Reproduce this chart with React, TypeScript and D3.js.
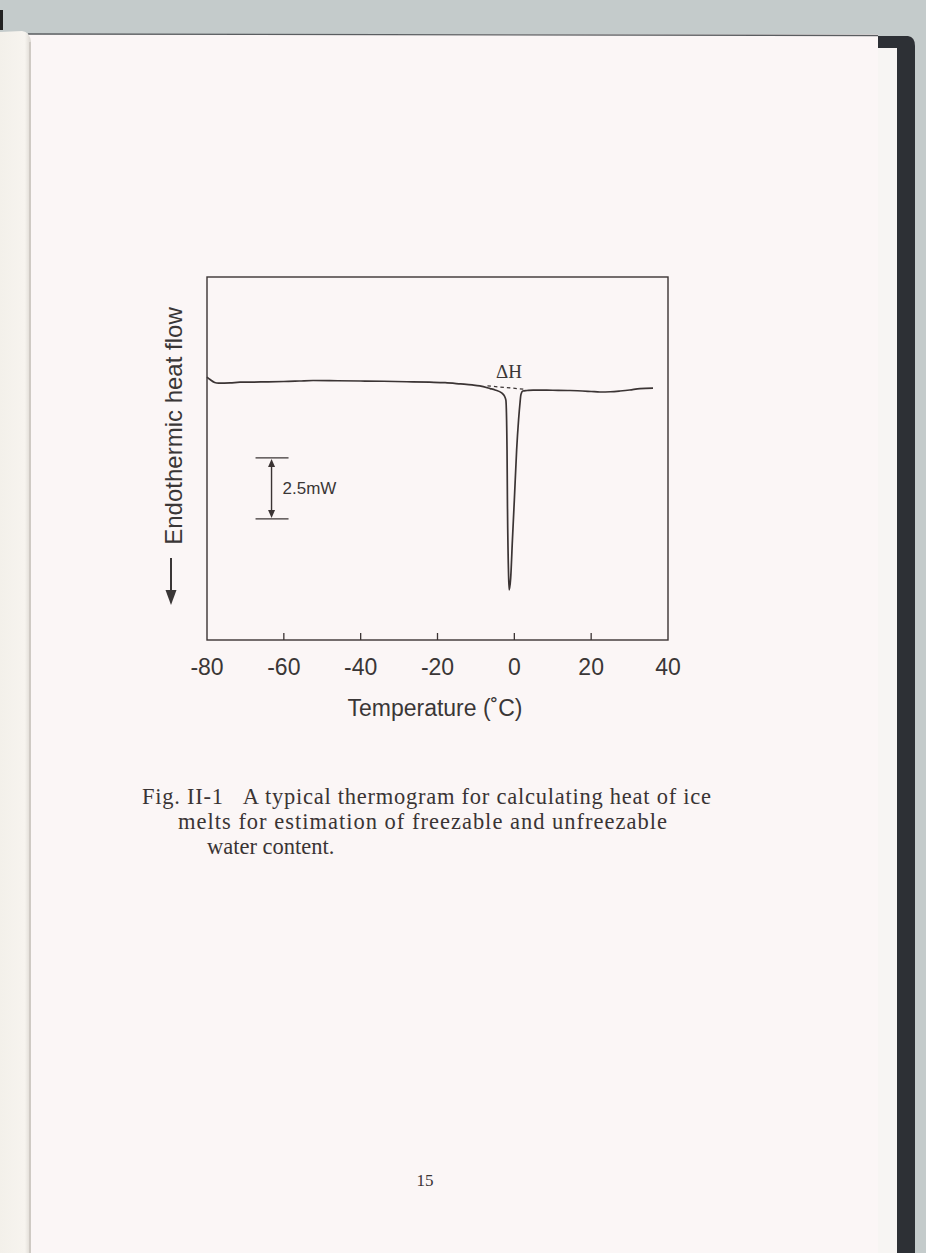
import React from 'react';
import * as d3 from 'd3';

// DSC thermogram trace (temperature in °C, heat flow in mW relative to baseline)
const temperature = [
  -80, -79.2, -78.0, -77.0, -74, -71.4, -66, -60, -56, -52.4, -46, -40, -34, -28, -22, -18,
  -14, -11, -9, -6.3, -5.0, -3.3, -2.6, -2.2, -1.9, -1.8, -1.5, -1.35, -0.95, -0.5, 0.0, 0.6,
  1.1, 1.5, 1.7, 2.2, 3.3, 4.9, 10, 14.5, 20, 22.3, 25, 27.5, 30, 32.7, 36.1,
];
const heatFlow = [
  0.2, 0.1, -0.02, -0.05, -0.04, -0.01, 0.0, 0.02, 0.04, 0.06, 0.05, 0.04, 0.03, 0.01, -0.01, -0.03,
  -0.08, -0.12, -0.16, -0.27, -0.33, -0.45, -0.57, -0.74, -2.79, -4.84, -7.91, -8.52, -8.03, -6.48, -4.84, -2.79,
  -1.56, -0.82, -0.53, -0.37, -0.35, -0.33, -0.34, -0.35, -0.39, -0.41, -0.4, -0.37, -0.33, -0.27, -0.25,
];
// dashed baseline under the melting peak (ΔH)
const dashT = [-7.0, 2.8];
const dashV = [-0.16, -0.3];

const xTicks = [-80, -60, -40, -20, 0, 20, 40];
const xDomain = [-80, 40];
const yDomain = [-10.57, 4.3];
const scaleBarMW = [-3.11, -5.61]; // 2.5 mW bar

const xTitle = 'Temperature (˚C)';
const yTitle = 'Endothermic heat flow';
const scaleLabel = '2.5mW';
const peakLabel = 'ΔH';
const captionLines = [
  'Fig. II-1\u00a0\u00a0\u00a0A typical thermogram for calculating heat of ice',
  'melts for estimation of freezable and unfreezable',
  'water content.',
];
const pageNumber = '15';

export default function App() {
  const W = 926;
  const H = 1253;
  const left = 207, right = 668, top = 277, bottom = 640;
  const x = d3.scaleLinear().domain(xDomain).range([left, right]);
  const y = d3.scaleLinear().domain(yDomain).range([bottom, top]);
  const line = d3
    .line<number>()
    .x((_, i) => x(temperature[i]))
    .y((d) => y(d))
    .curve(d3.curveMonotoneX);
  const path = line(heatFlow) || '';

  const ink = '#3b3434';
  const sans = '"Liberation Sans", Arial, sans-serif';
  const serif = '"Liberation Serif", "Times New Roman", serif';

  const sbX = x(-63.2);
  const sbY1 = y(scaleBarMW[0]);
  const sbY2 = y(scaleBarMW[1]);

  return (
    <svg
      width={W}
      height={H}
      viewBox={`0 0 ${W} ${H}`}
      style={{ position: 'absolute', left: 0, top: 0, display: 'block' }}
    >
      <defs>
        <linearGradient id="curl" x1="0" x2="1" y1="0" y2="0">
          <stop offset="0" stopColor="#f3f0ea" />
          <stop offset="0.8" stopColor="#f7f4ef" />
          <stop offset="1" stopColor="#dcd8d2" />
        </linearGradient>
      </defs>
      {/* background and book */}
      <rect x={0} y={0} width={W} height={H} fill="#c4cbcb" />
      <path d="M878,36 L908,36 Q915,37 915,46 L915,1253 L897,1253 L897,52 Q895,48 890,48 L878,48 Z" fill="#2d3035" />
      <rect x={28} y={34} width={850} height={H - 34} fill="#fbf6f6" />
      <rect x={878} y={48} width={19} height={H - 48} fill="#f7f5f3" />
      <line x1={28} y1={34} x2={878} y2={35.5} stroke="#5a5d60" strokeWidth={1.4} />
      <path d="M0,32 L22,31 Q30,32 31,42 L31,1253 L0,1253 Z" fill="url(#curl)" />
      <line x1={30} y1={42} x2={30} y2={H} stroke="#cfcac4" strokeWidth={2} />
      <rect x={0} y={10} width={3} height={20} fill="#222" />

      {/* frame */}
      <rect x={left} y={top} width={right - left} height={bottom - top} fill="none" stroke={ink} strokeWidth={1.4} />
      {/* ticks */}
      {xTicks.map((t) => (
        <g key={t}>
          {t > xDomain[0] && t < xDomain[1] && (
            <line x1={x(t)} x2={x(t)} y1={bottom} y2={bottom - 7} stroke={ink} strokeWidth={1.3} />
          )}
          <text x={x(t)} y={675} textAnchor="middle" fontFamily={sans} fontSize={23} fill="#3a3636">
            {t}
          </text>
        </g>
      ))}
      <text x={435} y={716} textAnchor="middle" fontFamily={sans} fontSize={23} fill="#3a3636">
        {xTitle}
      </text>

      {/* y title and arrow */}
      <text
        transform={`translate(182,426) rotate(-90)`}
        textAnchor="middle"
        fontFamily={sans}
        fontSize={24}
        fill="#3a3636"
      >
        {yTitle}
      </text>
      <line x1={171} x2={171} y1={558} y2={596} stroke="#3a3636" strokeWidth={2} />
      <path d="M165.5,590 L171,605 L176.5,590 Z" fill="#3a3636" />

      {/* curve */}
      <path d={path} fill="none" stroke={ink} strokeWidth={1.7} strokeLinejoin="round" />
      <line
        x1={x(dashT[0])}
        y1={y(dashV[0])}
        x2={x(dashT[1])}
        y2={y(dashV[1])}
        stroke={ink}
        strokeWidth={1.3}
        strokeDasharray="3.5,3"
      />
      <text x={x(-1.4)} y={y(0.16)} textAnchor="middle" fontFamily={serif} fontSize={19} fill="#3a3636">
        {peakLabel}
      </text>

      {/* scale bar */}
      <line x1={sbX - 16} x2={sbX + 17} y1={sbY1} y2={sbY1} stroke={ink} strokeWidth={1.3} />
      <line x1={sbX - 16} x2={sbX + 17} y1={sbY2} y2={sbY2} stroke={ink} strokeWidth={1.3} />
      <line x1={sbX} x2={sbX} y1={sbY1 + 6} y2={sbY2 - 6} stroke={ink} strokeWidth={1.4} />
      <path d={`M${sbX - 3.5},${sbY1 + 9} L${sbX},${sbY1 + 1} L${sbX + 3.5},${sbY1 + 9} Z`} fill={ink} />
      <path d={`M${sbX - 3.5},${sbY2 - 9} L${sbX},${sbY2 - 1} L${sbX + 3.5},${sbY2 - 9} Z`} fill={ink} />
      <text x={sbX + 11} y={(sbY1 + sbY2) / 2 + 6} fontFamily={sans} fontSize={17} fill="#3a3636">
        {scaleLabel}
      </text>

      {/* caption */}
      <text x={142} y={804} fontFamily={serif} fontSize={22.5} fill="#3a3434" textLength={569} lengthAdjust="spacing">
        {captionLines[0]}
      </text>
      <text x={178} y={829} fontFamily={serif} fontSize={22.5} fill="#3a3434" textLength={489} lengthAdjust="spacing">
        {captionLines[1]}
      </text>
      <text x={207} y={854} fontFamily={serif} fontSize={22.5} fill="#3a3434">
        {captionLines[2]}
      </text>
      <text x={425} y={1186} textAnchor="middle" fontFamily={serif} fontSize={17} fill="#3a3434">
        {pageNumber}
      </text>
    </svg>
  );
}
